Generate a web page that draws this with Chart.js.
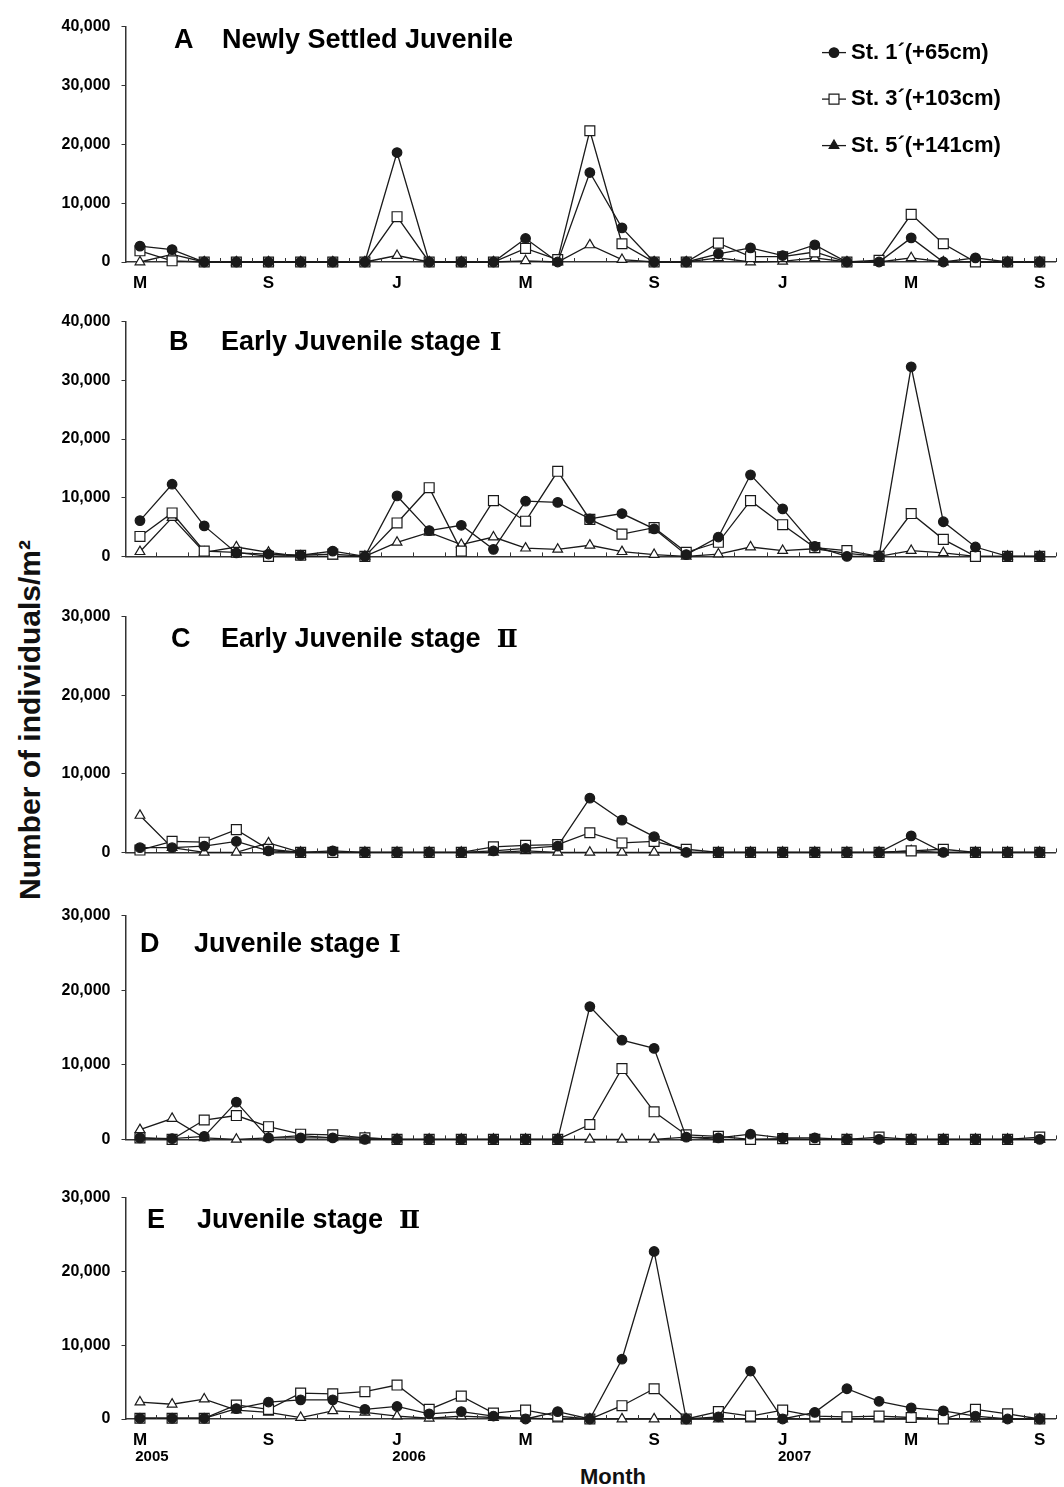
<!DOCTYPE html>
<html>
<head>
<meta charset="utf-8">
<script src="https://cdn.jsdelivr.net/npm/chart.js@4.4.1/dist/chart.umd.min.js"></script>
<style>
  body { margin: 0; background: #fff; }
  #page { position: relative; width: 1064px; height: 1487px; overflow: hidden;
          font-family: "Liberation Sans", Arial, "Noto Sans CJK JP", sans-serif; font-weight: bold; color: #111; }
  .panel { position: absolute; left: 0; }
  #ytitle { position: absolute; left: 30px; top: 720px; transform: translate(-50%, -50%) rotate(-90deg);
            font-size: 30px; white-space: nowrap; }
  #xtitle { position: absolute; left: 613px; top: 1477px; transform: translate(-50%, -50%); font-size: 22px; }
</style>
</head>
<body>
<div id="page">
  <div id="ytitle">Number of individuals/m²</div>
  <div id="xtitle">Month</div>
</div>
<script>
// monthly samples, May 2005 - Sep 2007
const months = ['M','J','J','A','S','O','N','D','J','F','M','A','M','J','J','A','S','O','N','D','J','F','M','A','M','J','J','A','S'];
const yearLabels = ['2005', '2006', '2007'];
const yearIndex = [0, 8, 20];
const stations = ['St. 1´(+65cm)', 'St. 3´(+103cm)', 'St. 5´(+141cm)'];

// A  newly settled juvenile
const st1A = [2700, 2100, 0, 0, 0, 0, 0, 0, 18600, 0, 0, 0, 4000, 0, 15200, 5800, 0, 0, 1400, 2400, 1100, 2900, 0, 0, 4100, 0, 700, 0, 0];
const st3A = [1900, 200, 0, 0, 0, 0, 0, 0, 7700, 0, 0, 0, 2300, 400, 22300, 3100, 0, 0, 3200, 900, 900, 1700, 0, 300, 8100, 3100, 0, 0, 0];
const st5A = [0, 1300, 0, 0, 0, 0, 0, 0, 1100, 0, 0, 0, 200, 0, 2900, 400, 0, 0, 700, 0, 100, 700, 0, 0, 700, 0, 0, 0, 0];

// B  early juvenile stage I
const st1B = [6100, 12300, 5200, 600, 400, 200, 900, 0, 10300, 4400, 5300, 1200, 9400, 9200, 6400, 7300, 4700, 300, 3300, 13900, 8100, 1700, 0, 0, 32300, 5900, 1600, 0, 0];
const st3B = [3400, 7400, 900, 700, 0, 200, 400, 0, 5700, 11700, 900, 9500, 6000, 14500, 6300, 3800, 4900, 700, 2400, 9500, 5400, 1500, 1000, 0, 7300, 2900, 0, 0, 0];
const st5B = [800, 6600, 700, 1600, 700, 0, 0, 0, 2400, 4100, 2000, 3300, 1400, 1200, 1900, 800, 300, 0, 400, 1600, 1000, 1300, 500, 0, 1000, 600, 0, 0, 0];

// C  early juvenile stage II
const st1C = [600, 600, 800, 1400, 200, 0, 200, 0, 0, 0, 0, 200, 500, 800, 6900, 4100, 2000, 0, 0, 0, 0, 0, 0, 0, 2100, 0, 0, 0, 0];
const st3C = [300, 1400, 1300, 2900, 400, 0, 0, 0, 0, 0, 0, 700, 900, 1000, 2500, 1200, 1400, 400, 0, 0, 0, 0, 0, 0, 200, 400, 0, 0, 0];
const st5C = [4700, 600, 0, 0, 1200, 0, 0, 0, 0, 0, 0, 0, 200, 0, 0, 0, 0, 0, 0, 0, 0, 0, 0, 0, 200, 0, 0, 0, 0];

// D  juvenile stage I
const st1D = [200, 100, 400, 5000, 200, 200, 200, 0, 0, 0, 0, 0, 0, 0, 17800, 13300, 12200, 300, 200, 700, 200, 200, 0, 0, 0, 0, 0, 0, 0];
const st3D = [200, 0, 2600, 3200, 1700, 700, 600, 200, 0, 0, 0, 0, 0, 0, 2000, 9500, 3700, 600, 400, 0, 100, 0, 0, 300, 0, 0, 0, 0, 300];
const st5D = [1300, 2800, 200, 0, 200, 500, 200, 200, 0, 0, 0, 0, 0, 0, 0, 0, 0, 300, 0, 0, 0, 0, 0, 0, 0, 0, 0, 0, 0];

// E  juvenile stage II
const st1E = [100, 100, 100, 1400, 2300, 2600, 2600, 1300, 1700, 700, 1000, 400, 0, 1000, 0, 8100, 22700, 0, 300, 6500, 0, 900, 4100, 2400, 1500, 1100, 400, 0, 0];
const st3E = [100, 100, 100, 1900, 1300, 3500, 3400, 3700, 4600, 1300, 3100, 800, 1200, 400, 0, 1800, 4100, 0, 1000, 400, 1200, 400, 300, 400, 200, 0, 1300, 700, 0];
const st5E = [2300, 2000, 2700, 1200, 900, 200, 1100, 900, 400, 100, 400, 200, 100, 0, 0, 0, 0, 0, 0, 0, 0, 0, 0, 0, 0, 0, 0, 0, 0];

const panels = [
  { letter: 'A', title: 'Newly Settled Juvenile', numeral: '', series: [st1A, st3A, st5A], yMax: 40000,
    top: 22, bottom: 262, axisH: 34, monthLabels: true, legend: true, letterX: 174, textX: 222, titleDy: 21 },
  { letter: 'B', title: 'Early Juvenile stage', numeral: 'Ⅰ', gap: 9, series: [st1B, st3B, st5B], yMax: 40000,
    top: 317, bottom: 569, axisH: 8, letterX: 169, textX: 221, titleDy: 28 },
  { letter: 'C', title: 'Early Juvenile stage', numeral: 'Ⅱ', gap: 16, series: [st1C, st3C, st5C], yMax: 30000,
    top: 612, bottom: 865, axisH: 8, letterX: 171, textX: 221, titleDy: 30 },
  { letter: 'D', title: 'Juvenile stage', numeral: 'Ⅰ', gap: 9, series: [st1D, st3D, st5D], yMax: 30000,
    top: 911, bottom: 1152, axisH: 8, letterX: 140, textX: 194, titleDy: 36 },
  { letter: 'E', title: 'Juvenile stage', numeral: 'Ⅱ', gap: 16, series: [st1E, st3E, st5E], yMax: 30000,
    top: 1193, bottom: 1419, axisH: 60, monthLabels: true, years: true, letterX: 147, textX: 197, titleDy: 30 }
];

const FONT = '"Liberation Sans", Arial, "Noto Sans CJK JP", sans-serif';
const NUMERAL_FONT = '"DejaVu Serif", "Liberation Serif", serif';
const INK = '#1a1a1a';
const PAD_TOP = 16;

const markers = [
  { pointStyle: 'circle', radius: 4.8, fill: INK, legendFill: INK },
  { pointStyle: 'rect', radius: 7, fill: '#fff', legendFill: '#fff' },
  { pointStyle: 'triangle', radius: 5.6, fill: '#fff', legendFill: INK }
];

Chart.defaults.font.family = FONT;
Chart.defaults.color = INK;

// small upward ticks between the monthly samples
const monthTicks = {
  id: 'monthTicks',
  afterDraw(chart) {
    const x = chart.scales.x, ctx = chart.ctx, y0 = chart.chartArea.bottom;
    ctx.save();
    ctx.strokeStyle = '#333';
    ctx.lineWidth = 1;
    for (let i = 0; i <= months.length; i++) {
      const px = Math.round(x.getPixelForValue(i - 0.5)) + 0.5;
      if (px < chart.chartArea.left) continue;
      ctx.beginPath();
      ctx.moveTo(px, y0);
      ctx.lineTo(px, y0 - 4);
      ctx.stroke();
    }
    ctx.restore();
  }
};

// panel letter and stage name inside the plot
const panelTitle = {
  id: 'panelTitle',
  afterDraw(chart, args, opts) {
    const ctx = chart.ctx, y = chart.chartArea.top + opts.dy;
    ctx.save();
    ctx.fillStyle = '#000';
    ctx.font = 'bold 27px ' + FONT;
    ctx.textBaseline = 'alphabetic';
    ctx.textAlign = 'left';
    ctx.fillText(opts.letter, opts.letterX, y);
    ctx.fillText(opts.text, opts.textX, y);
    if (opts.numeral) {
      const w = ctx.measureText(opts.text).width;
      ctx.font = 'bold 25px ' + NUMERAL_FONT;
      ctx.fillText(opts.numeral, opts.textX + w + opts.gap, y);
    }
    ctx.restore();
  }
};

// station key with line and marker
const stationKey = {
  id: 'stationKey',
  afterDraw(chart, args, opts) {
    if (!opts.show) return;
    const ctx = chart.ctx;
    ctx.save();
    chart.data.datasets.forEach((ds, k) => {
      const y = chart.chartArea.top + 26 + k * 46.5;
      ctx.strokeStyle = INK;
      ctx.lineWidth = 1.3;
      ctx.beginPath();
      ctx.moveTo(822, y);
      ctx.lineTo(846, y);
      ctx.stroke();
      ctx.fillStyle = markers[k].legendFill;
      ctx.lineWidth = 1.2;
      Chart.helpers.drawPoint(ctx, { pointStyle: ds.pointStyle, radius: ds.pointRadius, rotation: 0, borderWidth: 1.2 }, 834, y);
      ctx.fillStyle = '#000';
      ctx.font = 'bold 22px ' + FONT;
      ctx.textBaseline = 'middle';
      ctx.textAlign = 'left';
      ctx.fillText(ds.label, 851, y);
    });
    ctx.restore();
  }
};

// year under the first month of each year
const yearRow = {
  id: 'yearRow',
  afterDraw(chart, args, opts) {
    if (!opts.show) return;
    const ctx = chart.ctx, x = chart.scales.x;
    ctx.save();
    ctx.fillStyle = '#000';
    ctx.font = 'bold 15px ' + FONT;
    ctx.textAlign = 'center';
    ctx.textBaseline = 'middle';
    yearLabels.forEach((t, k) => {
      ctx.fillText(t, x.getPixelForValue(yearIndex[k]) + 12, chart.chartArea.bottom + 38);
    });
    ctx.restore();
  }
};

const page = document.getElementById('page');

panels.forEach(p => {
  const h = PAD_TOP + (p.bottom - p.top) + p.axisH;
  const wrap = document.createElement('div');
  wrap.className = 'panel';
  wrap.style.top = (p.top - PAD_TOP) + 'px';
  const cv = document.createElement('canvas');
  cv.width = 1064;
  cv.height = h;
  cv.style.width = '1064px';
  cv.style.height = h + 'px';
  wrap.appendChild(cv);
  page.appendChild(wrap);

  new Chart(cv.getContext('2d'), {
    type: 'line',
    data: {
      datasets: p.series.map((vals, k) => ({
        label: stations[k],
        data: vals.map((v, i) => ({ x: i, y: v })),
        borderColor: INK,
        borderWidth: 1.3,
        pointStyle: markers[k].pointStyle,
        pointRadius: markers[k].radius,
        pointBackgroundColor: markers[k].fill,
        pointBorderColor: INK,
        pointBorderWidth: 1.2,
        tension: 0,
        fill: false,
        clip: false
      }))
    },
    options: {
      responsive: false,
      animation: false,
      devicePixelRatio: 1,
      events: [],
      layout: { padding: { top: PAD_TOP, left: 0, right: 8, bottom: 0 } },
      plugins: {
        legend: { display: false },
        tooltip: { enabled: false },
        panelTitle: { letter: p.letter, text: p.title, numeral: p.numeral, gap: p.gap || 0,
                      letterX: p.letterX, textX: p.textX, dy: p.titleDy },
        stationKey: { show: !!p.legend },
        yearRow: { show: !!p.years }
      },
      scales: {
        x: {
          type: 'linear',
          min: -0.45,
          max: months.length - 0.5,
          afterBuildTicks: s => { s.ticks = months.map((m, i) => ({ value: i })); },
          afterFit: s => { s.height = p.axisH; },
          grid: { display: false },
          border: { display: true, color: '#333', width: 1.5 },
          ticks: {
            display: !!p.monthLabels,
            autoSkip: false,
            maxRotation: 0,
            padding: 3,
            color: '#000',
            font: { size: 17, weight: 'bold' },
            callback: (v, i) => (i % 4 === 0 ? months[i] : '')
          }
        },
        y: {
          min: 0,
          max: p.yMax,
          afterFit: s => { s.width = 125.5; },
          grid: { display: true, drawOnChartArea: false, drawTicks: true, tickLength: 4, color: '#333' },
          border: { display: true, color: '#333', width: 1.5 },
          ticks: {
            stepSize: 10000,
            padding: 11,
            color: '#000',
            font: { size: 16, weight: 'bold' },
            callback: v => v.toLocaleString('en-US')
          }
        }
      }
    },
    plugins: [monthTicks, panelTitle, stationKey, yearRow]
  });
});
</script>
</body>
</html>
